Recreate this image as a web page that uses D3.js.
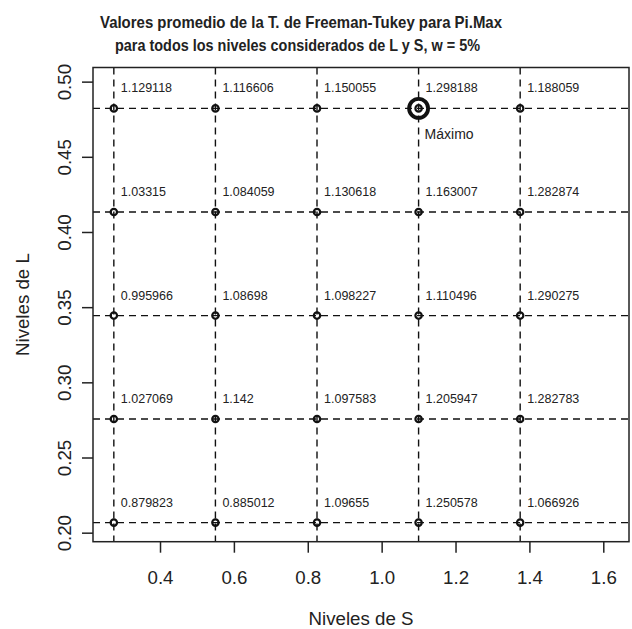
<!DOCTYPE html>
<html>
<head>
<meta charset="utf-8">
<script src="https://d3js.org/d3.v7.min.js"></script>
<style>
  body { margin: 0; background: #fff; }
  text { font-family: "Liberation Sans", Arial, sans-serif; fill: #222; }
</style>
</head>
<body>
<div id="chart-area"></div>
<script>
var width = 632,
    height = 629;

// data
var nivelesS = [0.275, 0.55, 0.825, 1.1, 1.375];
var nivelesL = [0.2067, 0.2756, 0.3444, 0.4133, 0.4822];
// one row per L level (bottom to top), one value per S level
var valores = [
  [0.879823, 0.885012, 1.09655, 1.250578, 1.066926],
  [1.027069, 1.142, 1.097583, 1.205947, 1.282783],
  [0.995966, 1.08698, 1.098227, 1.110496, 1.290275],
  [1.03315, 1.084059, 1.130618, 1.163007, 1.282874],
  [1.129118, 1.116606, 1.150055, 1.298188, 1.188059]
];
var valoresTxt = [
  ["0.879823", "0.885012", "1.09655", "1.250578", "1.066926"],
  ["1.027069", "1.142", "1.097583", "1.205947", "1.282783"],
  ["0.995966", "1.08698", "1.098227", "1.110496", "1.290275"],
  ["1.03315", "1.084059", "1.130618", "1.163007", "1.282874"],
  ["1.129118", "1.116606", "1.150055", "1.298188", "1.188059"]
];
var xTicks = [0.4, 0.6, 0.8, 1.0, 1.2, 1.4, 1.6];
var yTicks = [0.20, 0.25, 0.30, 0.35, 0.40, 0.45, 0.50];
var titulo = ["Valores promedio de la T. de Freeman-Tukey para Pi.Max",
              "para todos los niveles considerados de L y S, w = 5%"];

// plot region (don't call it "top", that's window.top)
var pLeft = 93, pRight = 629, pTop = 67.5, pBottom = 541.7;

var svg = d3.select("#chart-area").append("svg")
    .attr("width", width)
    .attr("height", height);

var x = d3.scaleLinear().domain([0.2186, 1.6696]).range([pLeft, pRight]);
var y = d3.scaleLinear().domain([0.194, 0.5094]).range([pBottom, pTop]);

// flatten grid into points
var puntos = [];
nivelesL.forEach(function(l, i) {
  nivelesS.forEach(function(s, j) {
    puntos.push({ s: s, l: l, v: valores[i][j], txt: valoresTxt[i][j] });
  });
});
var maximo = puntos.reduce(function(a, b) { return b.v > a.v ? b : a; });

// dashed reference lines
svg.append("g").selectAll("line")
  .data(nivelesS).enter().append("line")
  .attr("x1", d => x(d)).attr("x2", d => x(d))
  .attr("y1", pTop).attr("y2", pBottom)
  .attr("stroke", "#111").attr("stroke-width", 1.4)
  .attr("stroke-dasharray", "7,5");

svg.append("g").selectAll("line")
  .data(nivelesL).enter().append("line")
  .attr("x1", pLeft).attr("x2", pRight)
  .attr("y1", d => y(d)).attr("y2", d => y(d))
  .attr("stroke", "#111").attr("stroke-width", 1.4)
  .attr("stroke-dasharray", "7,5");

// points
svg.append("g").selectAll("circle")
  .data(puntos).enter().append("circle")
  .attr("cx", d => x(d.s)).attr("cy", d => y(d.l))
  .attr("r", 3.2)
  .attr("fill", "none").attr("stroke", "#111").attr("stroke-width", 2.2);

// value labels
svg.append("g").selectAll("text")
  .data(puntos).enter().append("text")
  .attr("x", d => x(d.s) + 7)
  .attr("y", d => y(d.l) - 16)
  .style("font-size", "12.5px")
  .text(d => d.txt);

// maximum marker
svg.append("circle")
  .attr("cx", x(maximo.s)).attr("cy", y(maximo.l))
  .attr("r", 9.5).attr("fill", "none")
  .attr("stroke", "#111").attr("stroke-width", 3.8);
svg.append("text")
  .attr("x", x(maximo.s) + 6).attr("y", y(maximo.l) + 31)
  .style("font-size", "14px")
  .text("Máximo");

// box
svg.append("rect")
  .attr("x", pLeft).attr("y", pTop)
  .attr("width", pRight - pLeft).attr("height", pBottom - pTop)
  .attr("fill", "none").attr("stroke", "#222").attr("stroke-width", 1.5);

// axes
var xAxis = d3.axisBottom(x).tickValues(xTicks).tickSize(11)
  .tickFormat(d3.format(".1f"));
var gx = svg.append("g").attr("transform", "translate(0," + pBottom + ")").call(xAxis);
gx.select(".domain").remove();
gx.selectAll("line").attr("stroke", "#222").attr("stroke-width", 1.5);
gx.selectAll("text").style("font-size", "18.7px")
  .attr("y", 42.3).attr("dy", null);

var yAxis = d3.axisLeft(y).tickValues(yTicks).tickSize(11)
  .tickFormat(d3.format(".2f"));
var gy = svg.append("g").attr("transform", "translate(" + pLeft + ",0)").call(yAxis);
gy.select(".domain").remove();
gy.selectAll("line").attr("stroke", "#222").attr("stroke-width", 1.5);
gy.selectAll("text").style("font-size", "18.7px")
  .attr("x", null).attr("dy", null)
  .attr("text-anchor", "middle")
  .attr("transform", "translate(-22,0) rotate(-90)")
  .attr("y", 0);

// axis titles
svg.append("text")
  .attr("x", (pLeft + pRight) / 2).attr("y", 625)
  .attr("text-anchor", "middle")
  .style("font-size", "18.7px")
  .text("Niveles de S");

svg.append("text")
  .attr("transform", "translate(28.5," + (pTop + pBottom) / 2 + ") rotate(-90)")
  .attr("text-anchor", "middle")
  .style("font-size", "18.7px")
  .text("Niveles de L");

// title (squeezed to the width it has in the original)
svg.append("text")
  .attr("x", 301).attr("y", 28)
  .attr("text-anchor", "middle")
  .style("font-size", "16.5px").style("font-weight", "bold")
  .attr("textLength", 402).attr("lengthAdjust", "spacingAndGlyphs")
  .text(titulo[0]);
svg.append("text")
  .attr("x", 297.5).attr("y", 51)
  .attr("text-anchor", "middle")
  .style("font-size", "16.5px").style("font-weight", "bold")
  .attr("textLength", 365).attr("lengthAdjust", "spacingAndGlyphs")
  .text(titulo[1]);
</script>
</body>
</html>
